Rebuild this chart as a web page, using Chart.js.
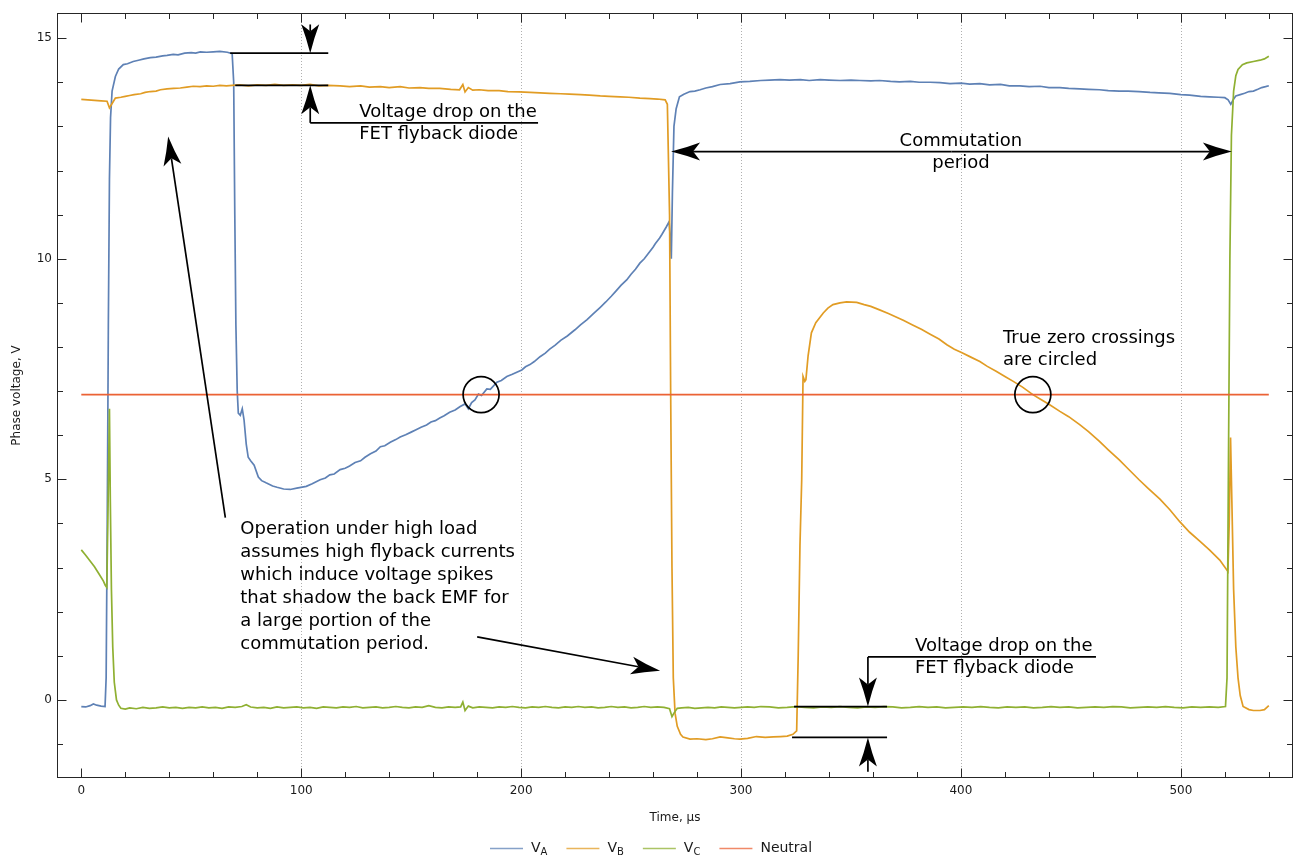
<!DOCTYPE html>
<html>
<head>
<meta charset="utf-8">
<title>Phase voltages</title>
<script src="https://cdn.jsdelivr.net/npm/chart.js@4.4.1/dist/chart.umd.min.js"></script>
<style>
  html, body { margin: 0; padding: 0; background: #ffffff; }
  #wrap { width: 1294px; height: 857px; position: relative; }
</style>
</head>
<body>
<div id="wrap"><canvas id="chart"></canvas></div>
<script>
// Phase voltages over one commutation cycle: time in µs, voltage in V.
const timeA = [
  0, 2, 4, 5.5, 7, 9, 10.8, 11.3, 11.8, 12.3,
  12.8, 13.3, 14, 15.5, 17, 19.1, 21, 23.6, 26, 28.5,
  31.4, 34, 37, 39, 41.8, 44, 47, 50, 52, 54.1,
  57, 60, 63, 66.4, 68.6, 69.3, 69.8, 70.3, 70.9, 71.4,
  72.3, 73.2, 74, 75, 75.9, 77, 78.6, 80.5, 82, 84,
  87, 89, 92, 95, 98, 102.3, 105, 108.6, 111, 113,
  115, 117.7, 120, 122, 124.5, 127, 129, 131.5, 134, 136,
  138, 140.5, 143, 145, 147.5, 150, 152, 154.5, 157, 159,
  161, 163, 165, 167.5, 170, 172.3, 174.5, 176, 177.5, 179,
  180.6, 182, 184.4, 186, 189, 191, 193.5, 196, 200.3, 202,
  204, 206, 208.6, 211, 213, 215.5, 218, 221, 224.5, 227,
  230, 233, 236, 238.5, 241, 243, 245.5, 248, 250, 252,
  254, 256, 258, 260, 261, 263, 264, 266, 267.3, 267.8,
  268.3, 268.8, 269.5, 270.5, 272, 274, 276.8, 279, 281.4, 284,
  287, 290.5, 295, 299.5, 304, 309, 313, 317.7, 322, 327,
  331, 336, 340, 345, 350, 354, 359, 363, 368, 372,
  377, 381, 386, 390.5, 395, 400, 404, 408.6, 413, 418,
  422, 426.8, 431, 436, 440, 445, 449, 454, 458, 463,
  467, 472, 476, 481, 486, 490, 495, 500, 504, 509,
  513, 517, 520, 521.5, 522.7, 524, 525, 527, 529, 531,
  533, 535, 536.8, 538.5, 540
];
const voltA = [
  -0.15, -0.16, -0.13, -0.09, -0.12, -0.14, -0.15, 0.5, 4.0, 8.5,
  11.8, 13.2, 13.8, 14.13, 14.3, 14.4, 14.42, 14.47, 14.5, 14.53,
  14.56, 14.57, 14.6, 14.61, 14.63, 14.62, 14.66, 14.67, 14.66, 14.69,
  14.68, 14.69, 14.7, 14.68, 14.65, 14.0, 11.0, 8.5, 7.0, 6.5,
  6.45, 6.6, 6.35, 5.8, 5.5, 5.42, 5.32, 5.05, 4.97, 4.92,
  4.85, 4.82, 4.78, 4.77, 4.8, 4.84, 4.9, 4.99, 5.03, 5.1,
  5.12, 5.22, 5.25, 5.3, 5.38, 5.42, 5.5, 5.58, 5.64, 5.74,
  5.76, 5.84, 5.9, 5.96, 6.01, 6.07, 6.12, 6.18, 6.23, 6.3,
  6.33, 6.39, 6.44, 6.52, 6.57, 6.65, 6.71, 6.6, 6.74, 6.8,
  6.93, 6.9, 7.05, 7.04, 7.2, 7.24, 7.33, 7.38, 7.48, 7.55,
  7.6, 7.67, 7.78, 7.86, 7.95, 8.04, 8.15, 8.25, 8.39, 8.5,
  8.62, 8.76, 8.9, 9.02, 9.15, 9.26, 9.4, 9.52, 9.65, 9.76,
  9.9, 10.0, 10.13, 10.26, 10.34, 10.47, 10.55, 10.72, 10.84, 10.5,
  10.0, 11.5, 13.0, 13.4, 13.67, 13.73, 13.79, 13.8, 13.83, 13.87,
  13.9, 13.95, 13.97, 14.01, 14.02, 14.04, 14.05, 14.06, 14.05, 14.06,
  14.04, 14.06, 14.05, 14.04, 14.05, 14.04, 14.03, 14.04, 14.02, 14.01,
  14.02, 14.0, 14.0, 13.99, 13.97, 13.98, 13.96, 13.97, 13.94, 13.95,
  13.92, 13.92, 13.9, 13.91, 13.88, 13.88, 13.86, 13.85, 13.84, 13.83,
  13.81, 13.8, 13.8, 13.79, 13.77, 13.76, 13.75, 13.72, 13.71, 13.68,
  13.67, 13.66, 13.65, 13.6, 13.5, 13.62, 13.69, 13.72, 13.75, 13.79,
  13.8, 13.84, 13.88, 13.9, 13.92
];

const timeB = [
  0, 3, 6, 9, 11.7, 12.8, 13.8, 15.5, 18, 20,
  22, 24, 27, 29, 31.4, 34, 36, 39, 42, 45,
  48, 50.9, 54, 57, 60, 63, 66, 68.6, 72, 76,
  80, 84, 88, 92, 96, 100, 104, 108, 112, 117.7,
  122, 127, 131, 136, 140, 145, 149, 154, 158, 163,
  168, 172, 173.5, 174.5, 176, 178, 181, 185, 190, 194,
  199, 204, 208.6, 213, 218, 222, 227, 231, 236, 240,
  245, 249, 254, 258.6, 262, 265.5, 266.5, 267.5, 268, 268.6,
  269.2, 270, 271, 272.5, 273.6, 276.8, 280, 284, 287, 290.5,
  294, 297, 299.5, 303, 307, 311, 314.7, 318, 321, 323.6,
  325.3, 326, 326.8, 327.6, 328.2, 329, 329.5, 330.5, 332, 334,
  337.4, 339.5, 341.8, 345, 348, 352.6, 356, 359, 363, 367,
  370.5, 374, 378, 382, 386, 390, 393.6, 397, 400.5, 404.5,
  408.6, 412, 416, 420, 423.8, 428, 432.7, 436, 440, 445,
  449, 454, 458, 463, 467, 472, 476, 481, 485, 490.5,
  495, 499.5, 504, 508.6, 513, 517.7, 521.4, 522, 522.6, 523.2,
  524, 525, 526, 527, 528.3, 531, 533, 536, 538, 540
];
const voltB = [
  13.61, 13.6, 13.59, 13.58, 13.57, 13.42, 13.5, 13.64, 13.66, 13.68,
  13.7, 13.72, 13.74, 13.77, 13.79, 13.8, 13.83, 13.85, 13.86, 13.87,
  13.89, 13.91, 13.9, 13.92, 13.91, 13.93, 13.92, 13.93, 13.94, 13.92,
  13.94, 13.93, 13.95, 13.93, 13.94, 13.93, 13.95, 13.92, 13.93, 13.92,
  13.9, 13.92, 13.89, 13.9, 13.88, 13.9, 13.87, 13.88, 13.86, 13.86,
  13.84, 13.83, 13.95, 13.78, 13.88, 13.82, 13.83, 13.81, 13.81, 13.79,
  13.78, 13.77, 13.76, 13.75, 13.74, 13.73, 13.72, 13.71, 13.69, 13.68,
  13.67, 13.66, 13.64, 13.63, 13.62, 13.6, 13.5, 11.0, 7.0, 3.0,
  0.5, -0.3, -0.6, -0.78, -0.84, -0.89, -0.88, -0.9, -0.88, -0.84,
  -0.86, -0.88, -0.89, -0.87, -0.83, -0.85, -0.84, -0.83, -0.82, -0.78,
  -0.7, 1.0, 3.5, 5.0, 7.33, 7.22, 7.26, 7.8, 8.32, 8.55,
  8.77, 8.88, 8.96, 9.0, 9.02, 9.01, 8.96, 8.92, 8.84, 8.76,
  8.68, 8.6, 8.5, 8.4, 8.29, 8.18, 8.05, 7.95, 7.87, 7.77,
  7.67, 7.56, 7.45, 7.33, 7.22, 7.09, 6.92, 6.82, 6.7, 6.54,
  6.42, 6.24, 6.08, 5.86, 5.67, 5.44, 5.24, 4.99, 4.8, 4.55,
  4.31, 4.04, 3.8, 3.6, 3.4, 3.17, 2.91, 4.0, 5.95, 4.5,
  2.5, 1.2, 0.5, 0.1, -0.15, -0.22, -0.24, -0.24, -0.22, -0.13
];

const timeC = [
  0, 2, 4, 6, 8, 10, 10.9, 11.6, 12.2, 12.8,
  13.2, 13.7, 14.3, 15, 16, 17, 18, 20, 22, 25,
  28, 31, 34, 37, 40, 43, 46, 49, 52, 55,
  58, 61, 64, 67, 70, 73, 75, 77, 80, 83,
  86, 89, 92, 95, 98, 101, 104, 107, 110, 113,
  116, 119, 122, 125, 128, 131, 134, 137, 140, 143,
  146, 149, 152, 155, 158, 161, 164, 167, 170, 172.5,
  173.5, 174.5, 176, 178, 181, 184, 187, 190, 193, 196,
  199, 202, 205, 208, 211, 214, 217, 220, 223, 226,
  229, 232, 235, 238, 241, 244, 247, 250, 253, 256,
  259, 262, 265, 267.5, 268.6, 269.5, 271, 273, 276, 279,
  282, 285, 288, 291, 294, 297, 300, 303, 306, 309,
  313, 317, 321, 325, 329, 333, 337, 341, 345, 349,
  353, 357, 361, 365, 369, 373, 377, 381, 385, 389,
  393, 397, 401, 405, 409, 413, 417, 421, 425, 429,
  433, 437, 441, 445, 449, 453, 457, 461, 465, 469,
  473, 477, 481, 485, 489, 493, 497, 501, 505, 509,
  513, 517, 520.3, 521, 521.6, 522.3, 523, 524, 525, 526,
  528, 530, 533, 536, 538, 540
];
const voltC = [
  3.4, 3.28, 3.15, 3.02, 2.86, 2.7, 2.6, 2.55, 4.5, 6.6,
  4.5, 2.5, 1.2, 0.4, 0.0, -0.12, -0.19, -0.21, -0.18, -0.2,
  -0.17, -0.19, -0.18, -0.16, -0.18, -0.17, -0.19, -0.17, -0.18, -0.16,
  -0.18, -0.17, -0.19, -0.16, -0.17, -0.15, -0.11, -0.16, -0.18, -0.17,
  -0.19, -0.16, -0.18, -0.17, -0.16, -0.18, -0.17, -0.19, -0.16, -0.17,
  -0.18, -0.16, -0.17, -0.15, -0.18, -0.17, -0.16, -0.18, -0.17, -0.15,
  -0.17, -0.18, -0.16, -0.17, -0.13, -0.17, -0.18, -0.16, -0.17, -0.16,
  -0.05, -0.24, -0.14, -0.18, -0.16, -0.17, -0.18, -0.16, -0.17, -0.15,
  -0.17, -0.18, -0.16, -0.17, -0.15, -0.17, -0.18, -0.16, -0.17, -0.15,
  -0.17, -0.16, -0.18, -0.17, -0.15, -0.17, -0.16, -0.18, -0.17, -0.15,
  -0.17, -0.16, -0.17, -0.2, -0.38, -0.3, -0.19, -0.18, -0.17, -0.19,
  -0.18, -0.17, -0.18, -0.16, -0.17, -0.18, -0.17, -0.16, -0.17, -0.15,
  -0.16, -0.18, -0.17, -0.15, -0.17, -0.18, -0.16, -0.17, -0.15, -0.17,
  -0.18, -0.16, -0.17, -0.15, -0.16, -0.18, -0.17, -0.15, -0.17, -0.16,
  -0.18, -0.17, -0.16, -0.17, -0.15, -0.17, -0.18, -0.16, -0.17, -0.16,
  -0.18, -0.17, -0.15, -0.17, -0.16, -0.18, -0.17, -0.16, -0.17, -0.15,
  -0.16, -0.18, -0.17, -0.16, -0.17, -0.15, -0.17, -0.18, -0.16, -0.17,
  -0.16, -0.17, -0.15, 0.5, 5.0, 10.0, 12.8, 13.8, 14.15, 14.29,
  14.4, 14.44, 14.47, 14.5, 14.53, 14.59
];

const timeN = [0, 540];
const voltN = [6.92, 6.92];

const seriesNames = ['V|A', 'V|B', 'V|C', 'Neutral'];
const seriesColors = ['#5E81B5', '#E19C24', '#8FB032', '#EB6235'];

const xTickValues = [0, 100, 200, 300, 400, 500];
const yTickValues = [0, 5, 10, 15];
const xGridValues = [100, 200, 300, 400, 500];

const toPoints = (ts, vs) => ts.map((t, i) => ({ x: t, y: vs[i] }));

// Callout geometry, in axis units (µs, V)
const diodeCallouts = [
  { x: 104.1, hiY: 14.66, loY: 13.93, hiFrom: 67.7, loFrom: 70, to: 112.3,
    topStart: 15.31, botStart: 13.08, leaderY: 13.08, leaderEnd: 207.7, textX: 126.4 },
  { x: 357.7, hiY: -0.15, loY: -0.85, hiFrom: 324.1, loFrom: 323.2, to: 366.4,
    topStart: 0.975, botStart: -1.63, leaderY: 0.975, leaderEnd: 461.4, textX: 379.1 }
];
const diodeText = ['Voltage drop on the', 'FET flyback diode'];
const commutation = { from: 268.2, to: 523.2, y: 12.43, textX: 400, lines: ['Commutation', 'period'] };
const zeroCircles = [{ x: 181.8, y: 6.92, r: 18 }, { x: 432.7, y: 6.92, r: 18 }];
const zeroText = { x: 419.1, y: 8.2, lines: ['True zero crossings', 'are circled'] };
const loadText = { x: 72.3, y: 3.86, lines: [
  'Operation under high load',
  'assumes high flyback currents',
  'which induce voltage spikes',
  'that shadow the back EMF for',
  'a large portion of the',
  'commutation period.'
] };
const loadArrows = [
  { fromX: 65.5, fromY: 4.13, toX: 39.5, toY: 12.77 },
  { fromX: 180, fromY: 1.43, toX: 263.2, toY: 0.66 }
];

const FONT = "'DejaVu Sans', 'Noto Sans', sans-serif";
Chart.defaults.font.family = FONT;

function arrowLine(ctx, x0, y0, x1, y1) {
  const len = 29, half = 9, notch = 7;
  const a = Math.atan2(y1 - y0, x1 - x0);
  const ux = Math.cos(a), uy = Math.sin(a);
  const total = Math.hypot(x1 - x0, y1 - y0);
  if (total > len - notch) {
    ctx.beginPath();
    ctx.moveTo(x0, y0);
    ctx.lineTo(x1 - ux * (len - notch), y1 - uy * (len - notch));
    ctx.stroke();
  }
  ctx.save();
  ctx.translate(x1, y1);
  ctx.rotate(a);
  ctx.beginPath();
  ctx.moveTo(0, 0);
  ctx.quadraticCurveTo(-len * 0.55, -half * 0.45, -len, -half);
  ctx.lineTo(-len + notch, 0);
  ctx.lineTo(-len, half);
  ctx.quadraticCurveTo(-len * 0.55, half * 0.45, 0, 0);
  ctx.closePath();
  ctx.fill();
  ctx.restore();
}

function hLine(ctx, xa, xb, y) {
  ctx.beginPath(); ctx.moveTo(xa, y); ctx.lineTo(xb, y); ctx.stroke();
}

const gridPlugin = {
  id: 'dottedGrid',
  beforeDatasetsDraw(chart) {
    const { ctx, chartArea: ca, scales: { x } } = chart;
    ctx.save();
    ctx.strokeStyle = '#b0b0b0';
    ctx.lineWidth = 1;
    ctx.setLineDash([1, 2]);
    xGridValues.forEach(v => {
      const px = Math.round(x.getPixelForValue(v)) + 0.5;
      ctx.beginPath(); ctx.moveTo(px, ca.top); ctx.lineTo(px, ca.bottom); ctx.stroke();
    });
    ctx.restore();
  }
};

const framePlugin = {
  id: 'frameAndNotes',
  afterDatasetsDraw(chart) {
    const { ctx, chartArea: ca, scales: { x, y } } = chart;
    const X = v => x.getPixelForValue(v);
    const Y = v => y.getPixelForValue(v);

    // frame with inward ticks on all four sides
    ctx.save();
    ctx.strokeStyle = '#262626';
    ctx.lineWidth = 1;
    const L = Math.round(ca.left) + 0.5, R = Math.round(ca.right) - 0.5;
    const T = Math.round(ca.top) + 0.5, B = Math.round(ca.bottom) - 0.5;
    ctx.strokeRect(L, T, R - L, B - T);
    ctx.beginPath();
    for (let v = 0; v <= x.max; v += 20) {
      const px = Math.round(X(v)) + 0.5;
      const len = v % 100 === 0 ? 9 : 5.5;
      ctx.moveTo(px, B); ctx.lineTo(px, B - len);
      ctx.moveTo(px, T); ctx.lineTo(px, T + len);
    }
    for (let v = -1; v <= y.max; v += 1) {
      const py = Math.round(Y(v)) + 0.5;
      const len = v % 5 === 0 ? 9 : 5.5;
      ctx.moveTo(L, py); ctx.lineTo(L + len, py);
      ctx.moveTo(R, py); ctx.lineTo(R - len, py);
    }
    ctx.stroke();
    ctx.restore();

    // axis titles
    ctx.save();
    ctx.fillStyle = '#1a1a1a';
    ctx.font = '12px ' + FONT;
    ctx.textAlign = 'center';
    ctx.textBaseline = 'middle';
    ctx.fillText('Time, µs', (ca.left + ca.right) / 2, 818);
    ctx.translate(17, (ca.top + ca.bottom) / 2);
    ctx.rotate(-Math.PI / 2);
    ctx.fillText('Phase voltage, V', 0, 0);
    ctx.restore();

    // callouts
    ctx.save();
    ctx.strokeStyle = '#000';
    ctx.fillStyle = '#000';
    ctx.lineWidth = 1.7;
    ctx.font = '18px ' + FONT;
    ctx.textBaseline = 'middle';

    diodeCallouts.forEach(c => {
      const vx = X(c.x);
      hLine(ctx, X(c.hiFrom), X(c.to), Y(c.hiY));
      hLine(ctx, X(c.loFrom), X(c.to), Y(c.loY));
      arrowLine(ctx, vx, Y(c.topStart), vx, Y(c.hiY));
      arrowLine(ctx, vx, Y(c.botStart), vx, Y(c.loY));
      const ly = Y(c.leaderY);
      hLine(ctx, vx, X(c.leaderEnd), ly);
      ctx.textAlign = 'left';
      ctx.fillText(diodeText[0], X(c.textX), ly - 11);
      ctx.fillText(diodeText[1], X(c.textX), ly + 11);
    });

    // commutation period double arrow
    const cy = Y(commutation.y);
    const cx0 = X(commutation.from), cx1 = X(commutation.to);
    const mid = (cx0 + cx1) / 2;
    arrowLine(ctx, mid, cy, cx0, cy);
    arrowLine(ctx, mid, cy, cx1, cy);
    ctx.textAlign = 'center';
    ctx.fillText(commutation.lines[0], X(commutation.textX), cy - 10);
    ctx.fillText(commutation.lines[1], X(commutation.textX), cy + 12);

    // zero-crossing circles
    zeroCircles.forEach(c => {
      ctx.beginPath();
      ctx.arc(X(c.x), Y(c.y), c.r, 0, Math.PI * 2);
      ctx.stroke();
    });
    ctx.textAlign = 'left';
    zeroText.lines.forEach((s, i) => ctx.fillText(s, X(zeroText.x), Y(zeroText.y) + i * 22));

    // high load note
    loadText.lines.forEach((s, i) => ctx.fillText(s, X(loadText.x), Y(loadText.y) + i * 23));
    loadArrows.forEach(a => arrowLine(ctx, X(a.fromX), Y(a.fromY), X(a.toX), Y(a.toY)));
    ctx.restore();

    // legend
    ctx.save();
    ctx.textBaseline = 'middle';
    ctx.textAlign = 'left';
    let lx = 490;
    const ly = 848;
    seriesNames.forEach((name, i) => {
      ctx.strokeStyle = seriesColors[i];
      ctx.globalAlpha = 0.75;
      ctx.lineWidth = 1.6;
      hLine(ctx, lx, lx + 33, ly + 0.5);
      ctx.globalAlpha = 1;
      ctx.fillStyle = '#1a1a1a';
      let tx = lx + 41;
      const parts = name.split('|');
      ctx.font = '14px ' + FONT;
      ctx.fillText(parts[0], tx, ly);
      tx += ctx.measureText(parts[0]).width;
      if (parts[1]) {
        ctx.font = '10px ' + FONT;
        ctx.fillText(parts[1], tx, ly + 4);
        tx += ctx.measureText(parts[1]).width;
      }
      lx = tx + 19;
    });
    ctx.restore();
  }
};

new Chart(document.getElementById('chart'), {
  type: 'line',
  data: {
    datasets: [
      { label: 'V_A', data: toPoints(timeA, voltA), borderColor: seriesColors[0], order: 4 },
      { label: 'V_B', data: toPoints(timeB, voltB), borderColor: seriesColors[1], order: 3 },
      { label: 'V_C', data: toPoints(timeC, voltC), borderColor: seriesColors[2], order: 2 },
      { label: 'Neutral', data: toPoints(timeN, voltN), borderColor: seriesColors[3], order: 1 }
    ]
  },
  options: {
    responsive: true,
    maintainAspectRatio: false,
    animation: false,
    layout: { padding: { top: 13, right: 1, left: 0, bottom: 0 } },
    elements: {
      point: { radius: 0, hoverRadius: 0 },
      line: { borderWidth: 1.7, tension: 0, fill: false }
    },
    plugins: { legend: { display: false }, tooltip: { enabled: false } },
    scales: {
      x: {
        type: 'linear', min: -11.05, max: 551,
        grid: { display: false, drawTicks: false },
        border: { display: false },
        afterBuildTicks: s => { s.ticks = xTickValues.map(v => ({ value: v })); },
        afterFit: s => { s.height = 79; },
        ticks: { padding: 6, color: '#1a1a1a', font: { size: 12 }, maxRotation: 0, autoSkip: false }
      },
      y: {
        type: 'linear', min: -1.77, max: 15.57,
        grid: { display: false, drawTicks: false },
        border: { display: false },
        afterBuildTicks: s => { s.ticks = yTickValues.map(v => ({ value: v })); },
        afterFit: s => { s.width = 57; },
        ticks: { padding: 5, color: '#1a1a1a', font: { size: 12 }, autoSkip: false }
      }
    }
  },
  plugins: [gridPlugin, framePlugin]
});
</script>
</body>
</html>
